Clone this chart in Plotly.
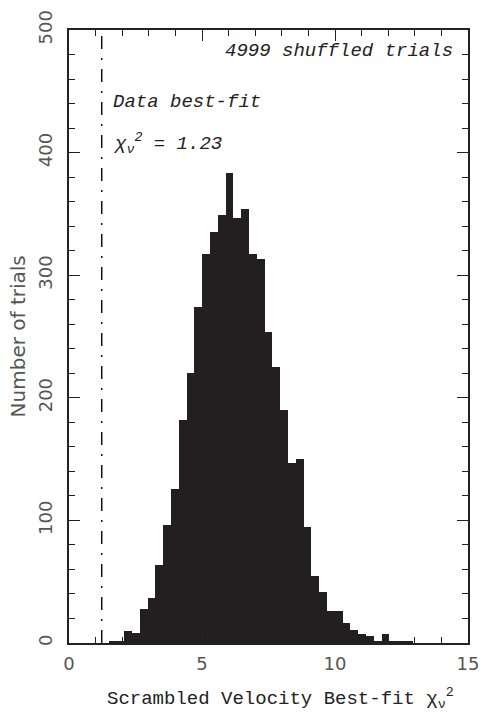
import plotly.graph_objects as go

# ---- data ----
bin_start = 1.49          # left edge of first histogram bin
bin_width = 0.2932        # histogram bin width
counts = [1, 1, 10, 8, 28, 37, 64, 96, 126, 182, 220, 274, 317, 335, 349, 383,
          347, 354, 317, 313, 254, 225, 190, 147, 150, 95, 55, 42, 26, 26, 16,
          11, 7, 6, 2, 7, 2, 2, 1]
data_chi2 = 1.23
n_trials = 4999
x_ticks = [0, 5, 10, 15]
y_ticks = [0, 100, 200, 300, 400, 500]

centers = [bin_start + (k + 0.5) * bin_width for k in range(len(counts))]

fig = go.Figure()
fig.add_trace(go.Bar(x=centers, y=counts, width=bin_width,
                     marker=dict(color="#231f20", line=dict(width=0)),
                     showlegend=False))
fig.add_trace(go.Scatter(x=[data_chi2, data_chi2], y=[0, 500], mode="lines",
                         line=dict(color="#111", width=1.5, dash="13px,9px,2px,9px"),
                         showlegend=False))

tickfont = dict(family="DejaVu Sans", size=18, color="#555")
fig.update_xaxes(range=[0, 15], tickvals=x_ticks, ticktext=[str(v) for v in x_ticks],
                 ticks="inside", ticklen=11, tickwidth=1, tickcolor="#222",
                 minor=dict(dtick=1, ticks="inside", ticklen=6, tickcolor="#222"),
                 showline=True, linewidth=1.5, linecolor="#222", mirror="ticks",
                 showgrid=False, zeroline=False, tickfont=tickfont,
                 ticklabelstandoff=4, automargin=False)
fig.update_yaxes(range=[0, 500], tickvals=y_ticks, ticktext=[str(v) for v in y_ticks],
                 ticks="inside", ticklen=11, tickwidth=1, tickcolor="#222",
                 minor=dict(dtick=20, ticks="inside", ticklen=6, tickcolor="#222"),
                 showline=True, linewidth=1.5, linecolor="#222", mirror="ticks",
                 showgrid=False, zeroline=False, tickfont=tickfont, tickangle=-90,
                 ticklabelstandoff=8, automargin=False)

annfont = dict(family="Liberation Mono", size=19, color="#222", style="italic")
fig.add_annotation(xref="paper", yref="paper", x=0.967, y=0.966, xanchor="right",
                   yanchor="middle", text=f"{n_trials} shuffled trials",
                   showarrow=False, font=annfont)
fig.add_annotation(xref="paper", yref="paper", x=0.105, y=0.8826, xanchor="left",
                   yanchor="middle", text="Data best-fit", showarrow=False, font=annfont)
fig.add_annotation(xref="paper", yref="paper", x=0.105, y=0.815, xanchor="left",
                   yanchor="middle",
                   text=f"\u03c7<sub>\u03bd</sub><sup>2</sup> = {data_chi2}",
                   showarrow=False, font=annfont)

fig.add_annotation(xref="paper", yref="paper", x=0.53, y=-0.09, xanchor="center",
                   yanchor="middle",
                   text="Scrambled Velocity Best-fit \u03c7<sub>\u03bd</sub><sup>2</sup>",
                   showarrow=False,
                   font=dict(family="Liberation Mono", size=19, color="#222"))
fig.add_annotation(xref="paper", yref="paper", x=-0.128, y=0.5, xanchor="center",
                   yanchor="middle", textangle=-90, text="Number of trials",
                   showarrow=False,
                   font=dict(family="DejaVu Sans", size=20, color="#555"))

fig.update_layout(width=481, height=717, margin=dict(l=69, r=13, t=30, b=74),
                  plot_bgcolor="white", paper_bgcolor="white", bargap=0)

fig.write_html("out.html")
